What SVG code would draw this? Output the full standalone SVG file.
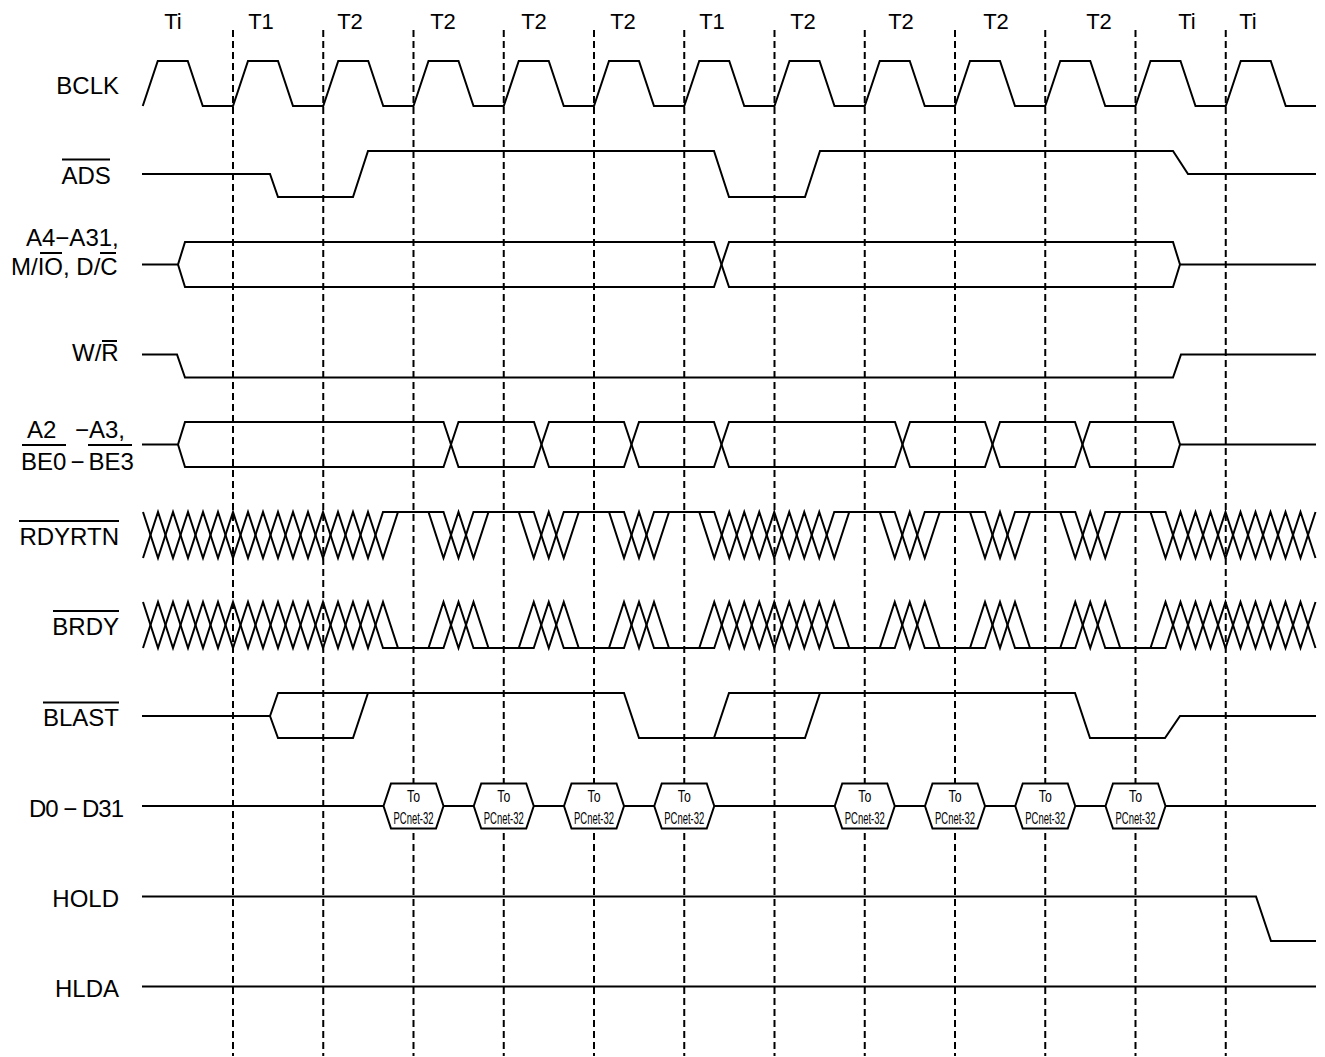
<svg xmlns="http://www.w3.org/2000/svg" width="1325" height="1057" viewBox="0 0 1325 1057">
<style>
.sig{fill:none;stroke:#000;stroke-width:2;stroke-linejoin:miter}
.dash{stroke:#000;stroke-width:2;stroke-dasharray:7,4}
.lbl{font-family:"Liberation Sans",Arial,sans-serif;font-size:24px;fill:#000}
.tl{font-family:"Liberation Sans",Arial,sans-serif;font-size:22px;fill:#000;text-anchor:middle}
.ov{stroke:#000;stroke-width:2}
.bx{fill:#fff;stroke:#000;stroke-width:2}
.bt{font-family:"Liberation Sans Narrow","Liberation Sans",Arial,sans-serif;font-size:16px;fill:#000;text-anchor:middle}
</style>
<defs>
<polyline id="zzA" class="sig" points="143,512 158,558 173,512 188,558 203,512 218,558 233,512 248,558 263,512 278,558 293,512 308,558 323,512 338,558 353,512 368,558 383,512 428.5,512 443.5,558 458.5,512 473.5,558 488.5,512 518.75,512 533.75,558 548.75,512 563.75,558 578.75,512 609,512 624,558 639,512 654,558 669,512 699.25,512 714.25,558 729.25,512 744.25,558 759.25,512 774.25,558 789.25,512 804.25,558 819.25,512 834.25,558 849.25,512 879.75,512 894.75,558 909.75,512 924.75,558 939.75,512 970,512 985,558 1000,512 1015,558 1030,512 1060.25,512 1075.25,558 1090.25,512 1105.25,558 1120.25,512 1150.5,512 1165.5,558 1180.5,512 1195.5,558 1210.5,512 1225.5,558 1240.5,512 1255.5,558 1270.5,512 1285.5,558 1300.5,512 1315.5,558"/>
<polyline id="zzB" class="sig" points="143,558 158,512 173,558 188,512 203,558 218,512 233,558 248,512 263,558 278,512 293,558 308,512 323,558 338,512 353,558 368,512 383,558 398,512 443.5,512 458.5,558 473.5,512 533.75,512 548.75,558 563.75,512 624,512 639,558 654,512 714.25,512 729.25,558 744.25,512 759.25,558 774.25,512 789.25,558 804.25,512 819.25,558 834.25,512 894.75,512 909.75,558 924.75,512 985,512 1000,558 1015,512 1075.25,512 1090.25,558 1105.25,512 1165.5,512 1180.5,558 1195.5,512 1210.5,558 1225.5,512 1240.5,558 1255.5,512 1270.5,558 1285.5,512 1300.5,558 1315.5,512"/>
</defs>
<rect width="1325" height="1057" fill="#fff"/>

<g id="cycle-labels">
<text class="tl" x="173" y="29">Ti</text>
<text class="tl" x="261" y="29">T1</text>
<text class="tl" x="350" y="29">T2</text>
<text class="tl" x="443" y="29">T2</text>
<text class="tl" x="534" y="29">T2</text>
<text class="tl" x="623" y="29">T2</text>
<text class="tl" x="712" y="29">T1</text>
<text class="tl" x="803" y="29">T2</text>
<text class="tl" x="901" y="29">T2</text>
<text class="tl" x="996" y="29">T2</text>
<text class="tl" x="1099" y="29">T2</text>
<text class="tl" x="1187" y="29">Ti</text>
<text class="tl" x="1248" y="29">Ti</text>
</g>

<g id="connectors">
<line class="dash" x1="233" y1="30" x2="233" y2="1056"/>
<line class="dash" x1="323.25" y1="30" x2="323.25" y2="1056"/>
<line class="dash" x1="413.5" y1="30" x2="413.5" y2="1056"/>
<line class="dash" x1="503.75" y1="30" x2="503.75" y2="1056"/>
<line class="dash" x1="594" y1="30" x2="594" y2="1056"/>
<line class="dash" x1="684.25" y1="30" x2="684.25" y2="1056"/>
<line class="dash" x1="774.5" y1="30" x2="774.5" y2="1056"/>
<line class="dash" x1="864.75" y1="30" x2="864.75" y2="1056"/>
<line class="dash" x1="955" y1="30" x2="955" y2="1056"/>
<line class="dash" x1="1045.25" y1="30" x2="1045.25" y2="1056"/>
<line class="dash" x1="1135.5" y1="30" x2="1135.5" y2="1056"/>
<line class="dash" x1="1225.75" y1="30" x2="1225.75" y2="1056"/>
</g>

<g id="BCLK">
<text class="lbl" x="119" y="94" text-anchor="end">BCLK</text>
<path class="sig" d="M142.75,106 L157.75,61 L187.75,61 L202.75,106 L233,106 L248,61 L278,61 L293,106 L323.25,106 L338.25,61 L368.25,61 L383.25,106 L413.5,106 L428.5,61 L458.5,61 L473.5,106 L503.75,106 L518.75,61 L548.75,61 L563.75,106 L594,106 L609,61 L639,61 L654,106 L684.25,106 L699.25,61 L729.25,61 L744.25,106 L774.5,106 L789.5,61 L819.5,61 L834.5,106 L864.75,106 L879.75,61 L909.75,61 L924.75,106 L955,106 L970,61 L1000,61 L1015,106 L1045.25,106 L1060.25,61 L1090.25,61 L1105.25,106 L1135.5,106 L1150.5,61 L1180.5,61 L1195.5,106 L1225.75,106 L1240.75,61 L1270.75,61 L1285.75,106 L1316,106"/>
</g>

<g id="ADS">
<text class="lbl" x="61.5" y="184">ADS</text>
<line class="ov" x1="62" y1="159.5" x2="110" y2="159.5"/>
<path class="sig" d="M142,174 L270,174 L278,197 L353,197 L368,151 L714,151 L729,197 L805,197 L820,151 L1173,151 L1188,174 L1316,174"/>
</g>

<g id="A4-A31">
<text class="lbl" x="26" y="246">A4−A31,</text>
<text class="lbl" x="11" y="275">M/IO, D/C</text>
<line class="ov" x1="40" y1="253" x2="62" y2="253"/>
<line class="ov" x1="100" y1="253" x2="116" y2="253"/>
<path class="sig" d="M142,264.5 L178,264.5 L185,242 L714,242 L729,287 L1173,287 L1180,264.5 L1316,264.5"/>
<path class="sig" d="M178,264.5 L185,287 L714,287 L729,242 L1173,242 L1180,264.5"/>
</g>

<g id="W-R">
<text class="lbl" x="72" y="361">W/R</text>
<line class="ov" x1="102" y1="341" x2="117" y2="341"/>
<path class="sig" d="M142,354.5 L177,354.5 L185,377.5 L1173,377.5 L1181,354.5 L1316,354.5"/>
</g>

<g id="A2-A3">
<text class="lbl" x="27" y="438">A2 <tspan x="75">−A3,</tspan></text>
<text class="lbl" x="21" y="470">BE0<tspan dx="4">−</tspan><tspan dx="4">BE3</tspan></text>
<line class="ov" x1="22" y1="445" x2="66" y2="445"/>
<line class="ov" x1="88" y1="445" x2="132" y2="445"/>
<path class="sig" d="M142,444.5 L178,444.5 L185,422 L443.5,422 L458.5,467 L534,467 L549,422 L624,422 L639,467 L714,467 L729,422 L895,422 L910,467 L985,467 L1000,422 L1075,422 L1090,467 L1173,467 L1180,444.5 L1316,444.5"/>
<path class="sig" d="M178,444.5 L185,467 L443.5,467 L458.5,422 L534,422 L549,467 L624,467 L639,422 L714,422 L729,467 L895,467 L910,422 L985,422 L1000,467 L1075,467 L1090,422 L1173,422 L1180,444.5"/>
</g>

<g id="RDYRTN">
<text class="lbl" x="119" y="545" text-anchor="end">RDYRTN</text>
<line class="ov" x1="19" y1="521" x2="119" y2="521"/>
<use href="#zzA"/>
<use href="#zzB"/>
</g>

<g id="BRDY">
<text class="lbl" x="119" y="635" text-anchor="end">BRDY</text>
<line class="ov" x1="53" y1="611" x2="119" y2="611"/>
<use href="#zzA" transform="matrix(1,0,0,-1,0,1160)"/>
<use href="#zzB" transform="matrix(1,0,0,-1,0,1160)"/>
</g>

<g id="BLAST">
<text class="lbl" x="119" y="726" text-anchor="end">BLAST</text>
<line class="ov" x1="43" y1="702.5" x2="119" y2="702.5"/>
<path class="sig" d="M142,716 L270,716 L278,693 L624,693 L639,738 L714,738 L729,693 L1075,693 L1090,738 L1165,738 L1180,716 L1316,716"/>
<path class="sig" d="M270,716 L278,738 L353,738 L368,693"/>
<path class="sig" d="M714,738 L805,738 L820,693"/>
</g>

<g id="D0-D31">
<text class="lbl" x="29" y="817" textLength="95" lengthAdjust="spacing">D0 − D31</text>
<path class="sig" d="M142,806 L383.5,806 M443.5,806 L473.75,806 M533.75,806 L564,806 M624,806 L654.25,806 M714.25,806 L834.75,806 M894.75,806 L925,806 M985,806 L1015.25,806 M1075.25,806 L1105.5,806 M1165.5,806 L1316,806"/>
</g>
<g id="D-box-1"><polygon class="bx" points="383.5,806 391,783.5 436,783.5 443.5,806 436,828.5 391,828.5"/><text class="bt" x="413.5" y="802" textLength="13" lengthAdjust="spacingAndGlyphs">To</text><text class="bt" x="413.5" y="824" textLength="40" lengthAdjust="spacingAndGlyphs">PCnet-32</text></g>
<g id="D-box-2"><polygon class="bx" points="473.75,806 481.25,783.5 526.25,783.5 533.75,806 526.25,828.5 481.25,828.5"/><text class="bt" x="503.75" y="802" textLength="13" lengthAdjust="spacingAndGlyphs">To</text><text class="bt" x="503.75" y="824" textLength="40" lengthAdjust="spacingAndGlyphs">PCnet-32</text></g>
<g id="D-box-3"><polygon class="bx" points="564,806 571.5,783.5 616.5,783.5 624,806 616.5,828.5 571.5,828.5"/><text class="bt" x="594" y="802" textLength="13" lengthAdjust="spacingAndGlyphs">To</text><text class="bt" x="594" y="824" textLength="40" lengthAdjust="spacingAndGlyphs">PCnet-32</text></g>
<g id="D-box-4"><polygon class="bx" points="654.25,806 661.75,783.5 706.75,783.5 714.25,806 706.75,828.5 661.75,828.5"/><text class="bt" x="684.25" y="802" textLength="13" lengthAdjust="spacingAndGlyphs">To</text><text class="bt" x="684.25" y="824" textLength="40" lengthAdjust="spacingAndGlyphs">PCnet-32</text></g>
<g id="D-box-5"><polygon class="bx" points="834.75,806 842.25,783.5 887.25,783.5 894.75,806 887.25,828.5 842.25,828.5"/><text class="bt" x="864.75" y="802" textLength="13" lengthAdjust="spacingAndGlyphs">To</text><text class="bt" x="864.75" y="824" textLength="40" lengthAdjust="spacingAndGlyphs">PCnet-32</text></g>
<g id="D-box-6"><polygon class="bx" points="925,806 932.5,783.5 977.5,783.5 985,806 977.5,828.5 932.5,828.5"/><text class="bt" x="955" y="802" textLength="13" lengthAdjust="spacingAndGlyphs">To</text><text class="bt" x="955" y="824" textLength="40" lengthAdjust="spacingAndGlyphs">PCnet-32</text></g>
<g id="D-box-7"><polygon class="bx" points="1015.25,806 1022.75,783.5 1067.75,783.5 1075.25,806 1067.75,828.5 1022.75,828.5"/><text class="bt" x="1045.25" y="802" textLength="13" lengthAdjust="spacingAndGlyphs">To</text><text class="bt" x="1045.25" y="824" textLength="40" lengthAdjust="spacingAndGlyphs">PCnet-32</text></g>
<g id="D-box-8"><polygon class="bx" points="1105.5,806 1113,783.5 1158,783.5 1165.5,806 1158,828.5 1113,828.5"/><text class="bt" x="1135.5" y="802" textLength="13" lengthAdjust="spacingAndGlyphs">To</text><text class="bt" x="1135.5" y="824" textLength="40" lengthAdjust="spacingAndGlyphs">PCnet-32</text></g>

<g id="HOLD">
<text class="lbl" x="119" y="906.5" text-anchor="end">HOLD</text>
<path class="sig" d="M142,896.5 L1256,896.5 L1271,941 L1316,941"/>
</g>

<g id="HLDA">
<text class="lbl" x="119" y="997" text-anchor="end">HLDA</text>
<path class="sig" d="M142,986.5 L1316,986.5"/>
</g>
</svg>
